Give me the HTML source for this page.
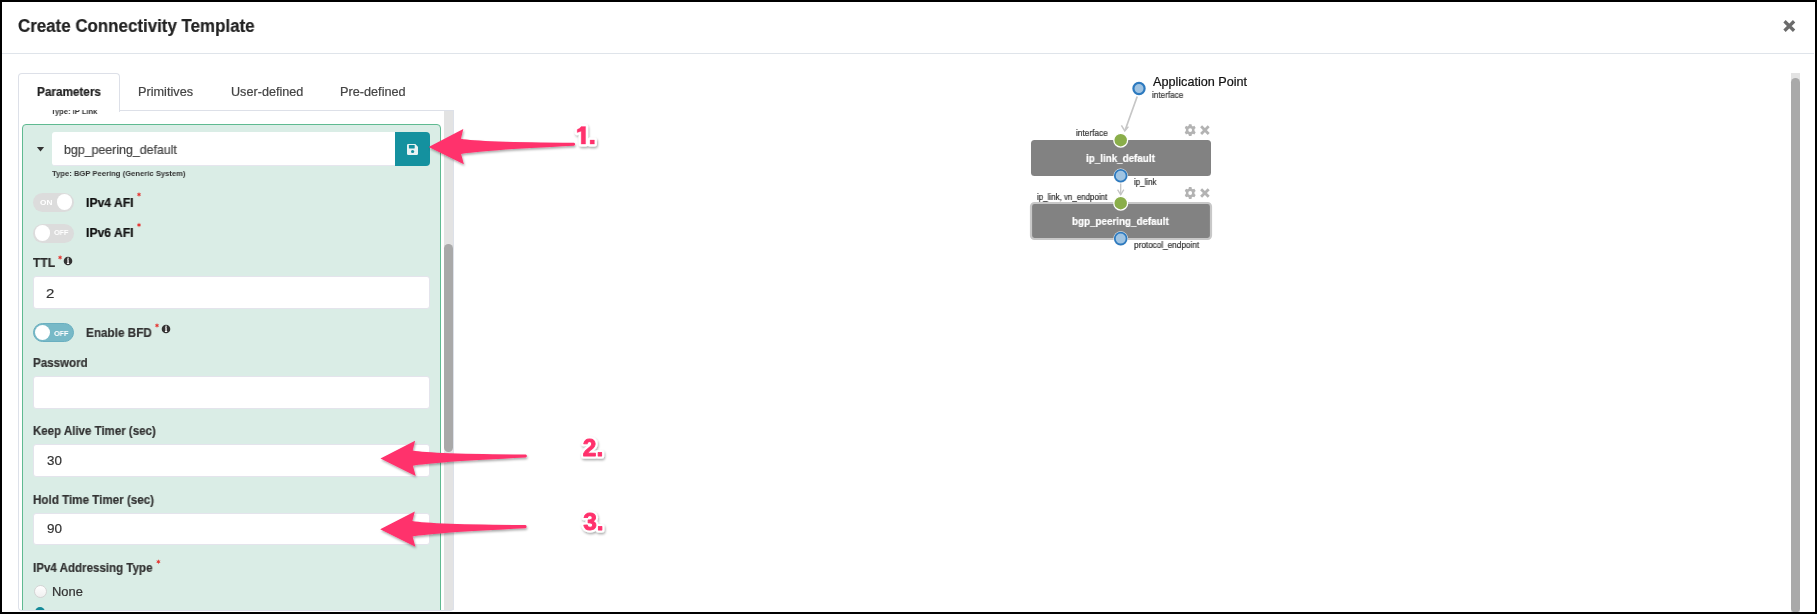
<!DOCTYPE html>
<html><head><meta charset="utf-8">
<style>
html,body{margin:0;padding:0;}
body{width:1817px;height:614px;background:#000;position:relative;overflow:hidden;font-family:"Liberation Sans",sans-serif;}
.t{position:absolute;white-space:nowrap;transform-origin:0 0;will-change:transform;-webkit-text-stroke:0.2px currentColor;}
.a{position:absolute;box-sizing:border-box;}
</style></head><body>
<!-- white canvas -->
<div class="a" style="left:2px;top:2px;width:1813px;height:610px;background:#fff;"></div>
<!-- header divider -->
<div class="a" style="left:2px;top:53px;width:1812px;height:1px;background:#dfe4ea;"></div>
<!-- close X -->
<svg class="a" style="left:1781px;top:18px;" width="16" height="16" viewBox="0 0 16 16"><path d="M3.5,3.3 L13.1,12.7 M13.1,3.3 L3.5,12.7" stroke="#6b6b6b" stroke-width="3.3"/></svg>
<!-- tabs: active tab -->
<div class="a" style="left:18px;top:73px;width:102px;height:39px;border:1px solid #dde0e8;border-bottom:none;border-radius:4px 4px 0 0;background:#fff;"></div>
<!-- content top border -->
<div class="a" style="left:119px;top:110px;width:335px;height:1px;background:#dde0e8;"></div>
<!-- content left border -->

<!-- green panel -->
<div class="a" style="left:22px;top:124px;width:419px;height:520px;background:#daede6;border:1px solid #5fba91;border-radius:4px;"></div>
<!-- caret -->
<svg class="a" style="left:36px;top:146px;" width="10" height="7" viewBox="0 0 10 7"><path d="M0.9 1 L8.1 1 L4.5 5.5 Z" fill="#333"/></svg>
<!-- name input -->
<div class="a" style="left:52px;top:132.3px;width:345px;height:33.8px;background:#fff;border-radius:3px 0 0 3px;border-bottom:1px solid #e6e6ee;"></div>
<!-- save button -->
<div class="a" style="left:395px;top:132px;width:35px;height:34px;background:#14919f;border-radius:0 4px 4px 0;"></div>
<svg class="a" style="left:406px;top:143px;" width="13" height="13" viewBox="0 0 13 13"><path d="M1 2.2 Q1 1 2.2 1 L9.3 1 L12 3.7 L12 10.8 Q12 12 10.8 12 L2.2 12 Q1 12 1 10.8 Z" fill="#e9f3f4"/><rect x="2.9" y="2.1" width="5.8" height="3.3" rx="0.4" fill="#14919f"/><circle cx="6.6" cy="8.5" r="1.6" fill="#14919f"/></svg>
<!-- toggle IPv4 ON -->
<div class="a" style="left:33.4px;top:193px;width:40.6px;height:19px;background:#dcdcdc;border-radius:10px;"></div>
<div class="a" style="left:56.6px;top:194.2px;width:15.8px;height:15.8px;background:#fff;border-radius:50%;"></div>
<!-- toggle IPv6 OFF -->
<div class="a" style="left:33.4px;top:224px;width:40.6px;height:19px;background:#dcdcdc;border-radius:10px;"></div>
<div class="a" style="left:34.5px;top:225.2px;width:15.8px;height:15.8px;background:#fff;border-radius:50%;"></div>
<!-- asterisks -->
<svg class="a" style="left:0;top:0;" width="200" height="614" viewBox="0 0 200 614">
 <defs><g id="ast"><path d="M0.00,-2.50 L0.58,-1.00 L2.17,-1.25 L1.15,0.00 L2.17,1.25 L0.58,1.00 L0.00,2.50 L-0.57,1.00 L-2.17,1.25 L-1.15,0.00 L-2.17,-1.25 L-0.58,-1.00 Z" fill="#e53935"/></g></defs>
 <use href="#ast" x="139" y="194.4"/>
 <use href="#ast" x="139" y="225.1"/>
 <use href="#ast" x="60.1" y="257.4"/>
 <use href="#ast" x="157" y="325.4"/>
 <use href="#ast" x="158.4" y="561.7"/>
</svg>
<!-- info icons -->
<svg class="a" style="left:63.4px;top:255.6px;" width="10" height="10" viewBox="0 0 10 10"><circle cx="5" cy="5" r="4.3" fill="#333"/><path d="M4.1,3.3 L5.7,3.3 L5.7,7.1 L6.2,7.1 L6.2,7.9 L3.9,7.9 L3.9,7.1 L4.4,7.1 L4.4,4.1 L4.1,4.1 Z" fill="#fff"/><circle cx="5.05" cy="2.2" r="0.75" fill="#fff"/></svg>
<svg class="a" style="left:160.5px;top:323.6px;" width="10" height="10" viewBox="0 0 10 10"><circle cx="5" cy="5" r="4.3" fill="#333"/><path d="M4.1,3.3 L5.7,3.3 L5.7,7.1 L6.2,7.1 L6.2,7.9 L3.9,7.9 L3.9,7.1 L4.4,7.1 L4.4,4.1 L4.1,4.1 Z" fill="#fff"/><circle cx="5.05" cy="2.2" r="0.75" fill="#fff"/></svg>
<!-- TTL input -->
<div class="a" style="left:33px;top:276px;width:397px;height:33px;background:#fff;border-radius:3px;border:1px solid #e4e4ec;"></div>
<!-- BFD toggle -->
<div class="a" style="left:33px;top:322.8px;width:41px;height:19px;background:#77b9c7;border:1.5px solid #6aafc0;border-radius:10px;"></div>
<div class="a" style="left:35px;top:324.9px;width:15px;height:15px;background:#fff;border-radius:50%;"></div>
<!-- Password input -->
<div class="a" style="left:33px;top:376px;width:397px;height:33px;background:#fff;border-radius:3px;border:1px solid #e4e4ec;"></div>
<!-- Keep alive input -->
<div class="a" style="left:33px;top:444px;width:397px;height:33px;background:#fff;border-radius:3px;border:1px solid #e4e4ec;"></div>
<!-- Hold time input -->
<div class="a" style="left:33px;top:513px;width:397px;height:32px;background:#fff;border-radius:3px;border:1px solid #e4e4ec;"></div>
<!-- radios -->
<div class="a" style="left:33.5px;top:585px;width:13px;height:13px;background:linear-gradient(#fff,#f0f0f0);border:1px solid #d4d4d4;border-radius:50%;"></div>
<div class="a" style="left:35px;top:607px;width:10px;height:10px;background:#138a98;border-radius:50%;"></div>
<!-- inner scrollbar -->
<div class="a" style="left:444px;top:111px;width:9.5px;height:500px;background:#e3e3e3;"></div>
<div class="a" style="left:444px;top:244px;width:9px;height:208px;background:#a9a9a9;border-radius:5px;"></div>
<!-- outer scrollbar -->
<div class="a" style="left:1791px;top:73px;width:9px;height:539px;background:#e3e3e3;"></div>
<div class="a" style="left:1791px;top:78px;width:9px;height:534px;background:#a9a9a9;border-radius:5px 5px 4px 4px;"></div>
<!-- content box bottom clip + border -->
<div class="a" style="left:18px;top:610.4px;width:437px;height:2px;background:#fff;"></div>
<div class="a" style="left:18px;top:110px;width:436px;height:501px;border:1px solid #dde1e9;border-top:none;border-radius:0 0 4px 4px;"></div>

<div class="t" style="left:17.82px;top:18.10px;font-size:17.6px;line-height:17.6px;font-weight:bold;color:#222;transform:scaleX(0.9613);">Create Connectivity Template</div>
<div class="t" style="left:36.89px;top:85.67px;font-size:12.2px;line-height:12.2px;font-weight:bold;color:#222;transform:scaleX(0.9633);">Parameters</div>
<div class="t" style="left:138.28px;top:85.67px;font-size:12.2px;line-height:12.2px;color:#444;transform:scaleX(1.0422);">Primitives</div>
<div class="t" style="left:230.91px;top:85.67px;font-size:12.2px;line-height:12.2px;color:#444;transform:scaleX(1.0365);">User-defined</div>
<div class="t" style="left:340.28px;top:85.67px;font-size:12.2px;line-height:12.2px;color:#444;transform:scaleX(1.0421);">Pre-defined</div>
<div class="t" style="left:50.72px;top:108.34px;font-size:8.1px;line-height:8.1px;font-weight:bold;color:#333;transform:scaleX(0.9325);clip-path:inset(2.2px 0 0 0);-webkit-text-stroke:0;">Type: IP Link</div>
<div class="t" style="left:64.06px;top:144.13px;font-size:12.6px;line-height:12.6px;color:#444;transform:scaleX(0.9836);">bgp_peering_default</div>
<div class="t" style="left:51.92px;top:170.14px;font-size:8.1px;line-height:8.1px;font-weight:bold;color:#333;transform:scaleX(0.9440);-webkit-text-stroke:0;">Type: BGP Peering (Generic System)</div>
<div class="t" style="left:85.97px;top:196.50px;font-size:12.4px;line-height:12.4px;font-weight:bold;color:#111;transform:scaleX(0.9817);">IPv4 AFI</div>
<div class="t" style="left:85.97px;top:227.10px;font-size:12.4px;line-height:12.4px;font-weight:bold;color:#111;transform:scaleX(0.9817);">IPv6 AFI</div>
<div class="t" style="left:33.08px;top:257.23px;font-size:12.6px;line-height:12.6px;font-weight:bold;color:#2b2b2b;transform:scaleX(0.9559);">TTL</div>
<div class="t" style="left:46.35px;top:286.83px;font-size:13.2px;line-height:13.2px;color:#333;transform:scaleX(1.1364);">2</div>
<div class="t" style="left:85.80px;top:326.67px;font-size:12.2px;line-height:12.2px;font-weight:bold;color:#333;transform:scaleX(0.9623);">Enable BFD</div>
<div class="t" style="left:33.11px;top:356.67px;font-size:12.2px;line-height:12.2px;font-weight:bold;color:#333;transform:scaleX(0.9473);">Password</div>
<div class="t" style="left:33.11px;top:425.17px;font-size:12.2px;line-height:12.2px;font-weight:bold;color:#333;transform:scaleX(0.9437);">Keep Alive Timer (sec)</div>
<div class="t" style="left:46.90px;top:453.83px;font-size:13.2px;line-height:13.2px;color:#333;transform:scaleX(1.0138);">30</div>
<div class="t" style="left:32.80px;top:493.67px;font-size:12.2px;line-height:12.2px;font-weight:bold;color:#333;transform:scaleX(0.9543);">Hold Time Timer (sec)</div>
<div class="t" style="left:46.76px;top:521.83px;font-size:13.2px;line-height:13.2px;color:#333;transform:scaleX(1.0236);">90</div>
<div class="t" style="left:33.11px;top:562.30px;font-size:12.4px;line-height:12.4px;font-weight:bold;color:#333;transform:scaleX(0.9329);">IPv4 Addressing Type</div>
<div class="t" style="left:51.77px;top:586.17px;font-size:12.2px;line-height:12.2px;color:#333;transform:scaleX(1.0595);">None</div>
<div class="t" style="left:40.37px;top:198.50px;font-size:7.8px;line-height:7.8px;font-weight:bold;color:#fff;transform:scaleX(1.0547);-webkit-text-stroke:0;">ON</div>
<div class="t" style="left:53.91px;top:229.30px;font-size:7.8px;line-height:7.8px;font-weight:bold;color:#fff;transform:scaleX(0.9240);-webkit-text-stroke:0;">OFF</div>
<div class="t" style="left:53.81px;top:329.50px;font-size:7.8px;line-height:7.8px;font-weight:bold;color:#fff;transform:scaleX(0.9306);-webkit-text-stroke:0;">OFF</div>
<div class="t" style="left:1152.80px;top:75.67px;font-size:12.2px;line-height:12.2px;color:#111;transform:scaleX(1.0362);">Application Point</div>
<div class="t" style="left:1152.31px;top:91.19px;font-size:8.4px;line-height:8.4px;color:#333;transform:scaleX(0.9742);">interface</div>
<div class="t" style="left:1075.50px;top:129.29px;font-size:8.4px;line-height:8.4px;color:#333;transform:scaleX(0.9869);">interface</div>
<div class="t" style="left:1134.22px;top:178.19px;font-size:8.4px;line-height:8.4px;color:#333;transform:scaleX(0.9447);">ip_link</div>
<div class="t" style="left:1036.52px;top:192.69px;font-size:8.4px;line-height:8.4px;color:#333;transform:scaleX(0.9489);">ip_link, vn_endpoint</div>
<div class="t" style="left:1134.21px;top:241.49px;font-size:8.4px;line-height:8.4px;color:#333;transform:scaleX(0.9774);">protocol_endpoint</div>
<!-- diagram -->
<svg class="a" style="left:1000px;top:60px;" width="280" height="210" viewBox="1000 60 280 210">
  <defs>
    <g id="gear"><path fill="#b3b3b3" fill-rule="evenodd" d="M-1.3,-5.9 L1.3,-5.9 L1.6,-4.3 L2.7,-3.7 L4.2,-4.3 L5.5,-2.1 L4.3,-1.0 L4.3,1.0 L5.5,2.1 L4.2,4.3 L2.7,3.7 L1.6,4.3 L1.3,5.9 L-1.3,5.9 L-1.6,4.3 L-2.7,3.7 L-4.2,4.3 L-5.5,2.1 L-4.3,1.0 L-4.3,-1.0 L-5.5,-2.1 L-4.2,-4.3 L-2.7,-3.7 L-1.6,-4.3 Z M0,-1.9 A1.9,1.9 0 1 0 0,1.9 A1.9,1.9 0 1 0 0,-1.9 Z"/></g>
    <g id="xx"><path d="M-3.8,-3.8 L3.8,3.8 M3.8,-3.8 L-3.8,3.8" stroke="#b3b3b3" stroke-width="2.8"/></g>
  </defs>
  <!-- connector AP -> node1 -->
  <path d="M1137.2,96.5 L1125,130.5" fill="none" stroke="#c6c6c6" stroke-width="1.7"/>
  <path d="M1121.4,125.4 L1124.8,131 L1128.4,126.6" fill="none" stroke="#c6c6c6" stroke-width="1.5"/>
  <!-- connector node1 -> node2 -->
  <path d="M1120.7,183.5 L1120.7,194.5" fill="none" stroke="#c4c4c4" stroke-width="1.3"/>
  <path d="M1117.6,189.6 L1120.7,194.8 L1123.8,189.6" fill="none" stroke="#c4c4c4" stroke-width="1.3"/>
  <!-- AP circle -->
  <circle cx="1139" cy="88.5" r="5.6" fill="#9fc3e2" stroke="#2d7abf" stroke-width="2.2"/>
  <!-- node1 -->
  <rect x="1031" y="140" width="180" height="36" rx="3.5" fill="#828282"/>
  <circle cx="1120.7" cy="140.2" r="6.9" fill="#8aae4a" stroke="#fff" stroke-width="1.3"/>
  <circle cx="1120.7" cy="175.8" r="7.3" fill="#f2f2f2"/>
  <circle cx="1120.7" cy="175.8" r="5.9" fill="#a0c4e2" stroke="#2d7abf" stroke-width="1.8"/>
  <use href="#gear" x="1190.2" y="130.1"/>
  <use href="#xx" x="1204.9" y="130.1"/>
  <!-- node2 -->
  <rect x="1031" y="203" width="180" height="36" rx="3.5" fill="#828282" stroke="#c8c8c8" stroke-width="2.2"/>
  <circle cx="1120.7" cy="203.2" r="6.9" fill="#8aae4a" stroke="#fff" stroke-width="1.3"/>
  <circle cx="1120.7" cy="238.6" r="7.3" fill="#f2f2f2"/>
  <circle cx="1120.7" cy="238.6" r="5.9" fill="#a0c4e2" stroke="#2d7abf" stroke-width="1.8"/>
  <use href="#gear" x="1190.2" y="193"/>
  <use href="#xx" x="1204.9" y="193"/>
</svg>
<!-- pink arrows -->
<svg class="a" style="left:0;top:0;" width="700" height="614" viewBox="0 0 700 614">
  <defs>
    <filter id="sh" x="-20%" y="-50%" width="140%" height="200%"><feDropShadow dx="0.8" dy="1.6" stdDeviation="1.1" flood-color="#000" flood-opacity="0.35"/></filter>
    <path id="arr" d="M0,0 L34.6,-17.9 L32.2,-8.2 Q50,-4.8 145.2,-4.2 A1.6,1.6 0 0 1 145.2,-1.1 Q50,3.5 32.4,7.2 L35.2,17.4 Z"/>
  </defs>
  <g fill="#ff306c" filter="url(#sh)">
    <use href="#arr" x="428.7" y="146.9"/>
    <use href="#arr" x="380.5" y="458.6"/>
    <use href="#arr" x="380.2" y="529.3"/>
  </g>
  <g font-family="Liberation Sans" font-weight="bold" font-size="24.5" filter="url(#sh)">
    <g fill="#fff" stroke="#fff" stroke-width="5" stroke-linejoin="round">
    <path d="M581.2,126.6 L585.6,126.6 L585.6,144.1 L581.2,144.1 L581.2,131.2 L577.2,132.6 L577.2,129.5 Q580,128.6 581.2,126.6 Z M590.1,140 L594.4,140 L594.4,144.1 L590.1,144.1 Z"/>
    <text x="582.8" y="455.8">2.</text>
    <text x="583.2" y="529.8">3.</text>
    </g>
    <g fill="#ff306c" stroke="#ff306c" stroke-width="0.9" stroke-linejoin="round">
    <path d="M581.2,126.6 L585.6,126.6 L585.6,144.1 L581.2,144.1 L581.2,131.2 L577.2,132.6 L577.2,129.5 Q580,128.6 581.2,126.6 Z M590.1,140 L594.4,140 L594.4,144.1 L590.1,144.1 Z" stroke-width="0.3"/>
    <text x="582.8" y="455.8">2.</text>
    <text x="583.2" y="529.8">3.</text>
    </g>
  </g>
</svg>
<!-- black frame overlay -->
<div class="a" style="left:0;top:612px;width:1817px;height:2px;background:#000;"></div>
<div class="a" style="left:1815px;top:0;width:2px;height:614px;background:#000;"></div>

<div class="t" style="left:1086.11px;top:152.73px;font-size:10.6px;line-height:10.6px;font-weight:bold;color:#fff;transform:scaleX(0.9273);">ip_link_default</div>
<div class="t" style="left:1072.21px;top:216.03px;font-size:10.6px;line-height:10.6px;font-weight:bold;color:#fff;transform:scaleX(0.9278);">bgp_peering_default</div>
</body></html>
